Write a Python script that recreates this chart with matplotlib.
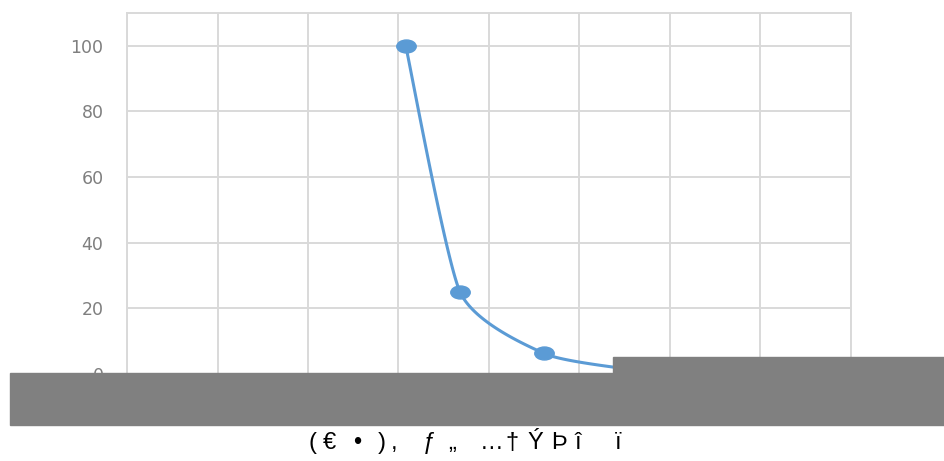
import matplotlib.pyplot as plt
import matplotlib.patches as mpatches
from matplotlib.path import Path
import numpy as np

# values
x_vals = [3.08, 3.68, 4.61, 5.51]
y_vals = [100, 25, 6.25, 1.5625]
y_ticks = [0, 20, 40, 60, 80, 100]
caption_chars = ["(", "€", "•", ")", ",", "ƒ", "„", "…", "†", "Ý", "Þ", "î", "ï"]
caption_px = [313, 329, 357, 382, 394, 429, 452, 492, 512, 535, 559, 578, 618]

blue = "#5b9bd5"
grid_c = "#d9d9d9"


def smooth(xs, ys, n=40):
    # catmull-rom style smoothing, like the office "smoothed line"
    px = [xs[0]] + list(xs) + [xs[-1]]
    py = [ys[0]] + list(ys) + [ys[-1]]
    out_x, out_y = [], []
    for i in range(1, len(px) - 2):
        t = np.linspace(0, 1, n)
        for p, out in ((px, out_x), (py, out_y)):
            p0, p1, p2, p3 = p[i - 1], p[i], p[i + 1], p[i + 2]
            m1 = (p2 - p0) / 2 * 0.6
            m2 = (p3 - p1) / 2 * 0.6
            h00 = 2 * t**3 - 3 * t**2 + 1
            h10 = t**3 - 2 * t**2 + t
            h01 = -2 * t**3 + 3 * t**2
            h11 = t**3 - t**2
            out.extend(h00 * p1 + h10 * m1 + h01 * p2 + h11 * m2)
    return out_x, out_y


# the picture is stretched sideways, so the markers are flat ellipses
circ = Path.unit_circle()
ell = Path(circ.vertices * [1.5, 1.0], circ.codes)

fig = plt.figure(figsize=(9.45, 4.61), dpi=100)
ax = fig.add_axes([0.1344, 0.1887, 0.7661, 0.7831])

sx, sy = smooth(x_vals, y_vals)
ax.plot(sx, sy, color=blue, lw=2.2, zorder=3)
ax.plot(x_vals, y_vals, ls="none", marker=ell, color=blue, ms=14, zorder=4)

ax.set_xlim(0, 8)
ax.set_ylim(0, 110)
ax.set_xticks(range(9))
ax.set_xticklabels([])
ax.set_yticks(y_ticks)
ax.grid(True, color=grid_c, lw=1.4)
ax.tick_params(length=0, labelsize=12.5, labelcolor="#7f7f7f", pad=17)
for s in ax.spines.values():
    s.set_color(grid_c)
    s.set_linewidth(1.4)

# gray blocks over the bottom of the chart
W, H = 945, 461
fig.patches.append(mpatches.Rectangle((10 / W, 1 - 425 / H), 935 / W, 52 / H,
                                      transform=fig.transFigure, color="#808080", zorder=10))
fig.patches.append(mpatches.Rectangle((613 / W, 1 - 374 / H), 332 / W, 17 / H,
                                      transform=fig.transFigure, color="#808080", zorder=10))

for ch, px in zip(caption_chars, caption_px):
    fig.text(px / W, 1 - 443 / H, ch, ha="center", va="center", fontsize=17,
             family=["Liberation Sans", "DejaVu Sans"])

fig.savefig("out.png", dpi=100)
